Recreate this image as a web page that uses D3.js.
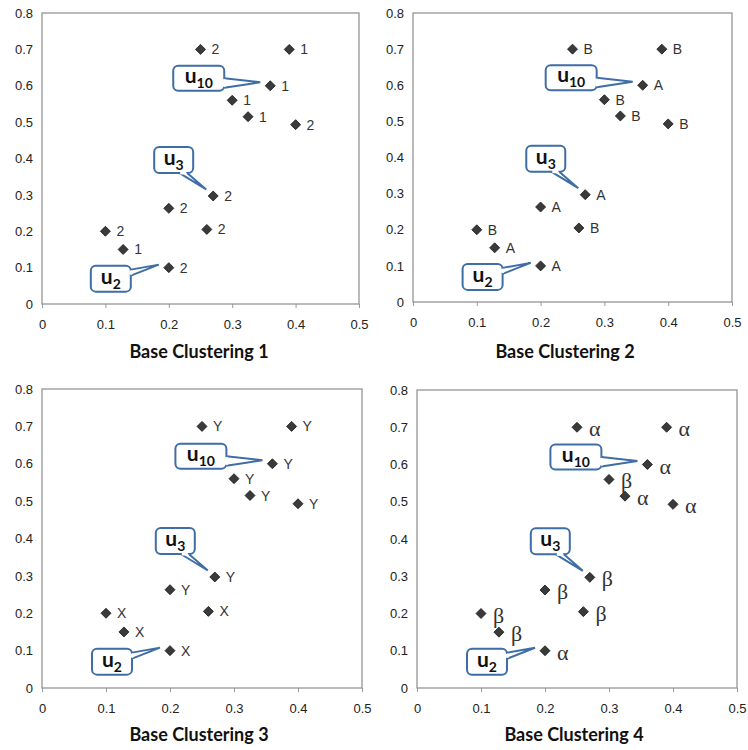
<!DOCTYPE html>
<html><head><meta charset="utf-8">
<script src="https://cdn.jsdelivr.net/npm/d3@7"></script>
<style>
html,body{margin:0;padding:0;background:#fff;}
svg{display:block;}
</style></head>
<body>
<svg id="chart" width="748" height="750"></svg>
<script>
// ---- data ----
const xValues = [0.25, 0.39, 0.36, 0.30, 0.325, 0.40, 0.27, 0.20, 0.26, 0.10, 0.128, 0.20];
const yValues = [0.70, 0.70, 0.60, 0.56, 0.515, 0.493, 0.297, 0.263, 0.205, 0.20, 0.15, 0.10];
const labels1 = ["2","1","1","1","1","2","2","2","2","2","1","2"];
const labels2 = ["B","B","A","B","B","B","A","A","B","B","A","A"];
const labels3 = ["Y","Y","Y","Y","Y","Y","Y","Y","X","X","X","X"];
const labels4 = ["α","α","α","β","α","α","β","β","β","β","β","α"];
const titles = ["Base Clustering 1","Base Clustering 2","Base Clustering 3","Base Clustering 4"];
const xTicks = [0, 0.1, 0.2, 0.3, 0.4, 0.5];
const yTicks = [0, 0.1, 0.2, 0.3, 0.4, 0.5, 0.6, 0.7, 0.8];
const calloutIndex = [2, 6, 11];
const calloutSub = ["10", "3", "2"];

const labelSets = [labels1, labels2, labels3, labels4];

// ---- layout ----
const SANS = "'Liberation Sans', Arimo, Arial, sans-serif";
const SERIF = "'Liberation Serif', 'Times New Roman', 'DejaVu Serif', serif";
const BOLD = "Lato, 'Open Sans', sans-serif";
const panels = [
  {l:42,  r:359, t:13,  b:304, tx:199, ty:358, serif:false},
  {l:413, r:732, t:13,  b:302, tx:565, ty:358, serif:false},
  {l:42,  r:362, t:389, b:688, tx:199, ty:741, serif:false},
  {l:417, r:737, t:390, b:688, tx:574, ty:741, serif:true}
];
// callout geometry relative to the pointed-to marker
const calloutGeom = [
  {bx:-97, by:-20, bw:51, bh:25, tip:[-10,-3.5], base:[[0,-7.5],[0,2]], side:"right"},
  {bx:-59, by:-49, bw:39, bh:26, tip:[-7,-6.5], base:[[-34,0],[-26,0]], side:"bottom"},
  {bx:-78, by:-2,  bw:40, bh:26, tip:[-10,-3], base:[[0,2],[0,8]], side:"right"}
];

const svg = d3.select("#chart");

panels.forEach((p, pi) => {
  const x = d3.scaleLinear().domain([0, 0.5]).range([p.l, p.r]);
  const y = d3.scaleLinear().domain([0, 0.8]).range([p.b, p.t]);
  const g = svg.append("g");

  // x axis
  const xa = g.append("g").attr("transform", `translate(0,${p.b})`)
    .call(d3.axisBottom(x).tickValues(xTicks).tickSize(4).tickSizeOuter(0)
      .tickFormat(d => d3.format("")(+d.toFixed(1))));
  xa.attr("font-family", SANS).attr("font-size", 13);
  xa.select(".domain").remove();
  xa.selectAll(".tick line").attr("stroke", "#9a9a9a");
  xa.selectAll(".tick text").attr("dy", null).attr("y", 25)
    .style("font-family", SANS).style("font-size", "13px").attr("fill", "#222");

  // y axis
  const ya = g.append("g").attr("transform", `translate(${p.l},0)`)
    .call(d3.axisLeft(y).tickValues(yTicks).tickSize(0).tickSizeOuter(0)
      .tickFormat(d => d3.format("")(+d.toFixed(1))));
  ya.attr("font-family", SANS).attr("font-size", 13);
  ya.select(".domain").remove();
  ya.selectAll(".tick text").attr("x", -9)
    .style("font-family", SANS).style("font-size", "13px").attr("fill", "#222");

  // plot frame
  g.append("rect").attr("x", p.l).attr("y", p.t).attr("width", p.r - p.l).attr("height", p.b - p.t)
    .attr("fill", "none").attr("stroke", "#8c8c8c").attr("stroke-width", 1.2);

  // markers
  const data = xValues.map((v, i) => ({x: v, y: yValues[i], lab: labelSets[pi][i]}));
  const s = 5;
  g.selectAll("path.pt").data(data).enter().append("path").attr("class", "pt")
    .attr("d", d => {
      const cx = x(d.x), cy = y(d.y);
      return `M${cx},${cy - s}L${cx + s},${cy}L${cx},${cy + s}L${cx - s},${cy}Z`;
    })
    .attr("fill", "#3a3a3a").attr("stroke", "#161616").attr("stroke-width", 0.8);

  // point labels
  g.selectAll("text.lab").data(data).enter().append("text").attr("class", "lab")
    .attr("x", d => x(d.x) + (p.serif ? 12 : 11))
    .attr("y", d => y(d.y) + (p.serif ? 9 : 5))
    .style("font-family", p.serif ? SERIF : SANS)
    .style("font-size", p.serif ? "22px" : "14px")
    .attr("fill", "#333")
    .text(d => d.lab);

  // callouts
  calloutIndex.forEach((idx, ci) => {
    const cg = calloutGeom[ci];
    const px = x(xValues[idx]), py = y(yValues[idx]);
    const bx = px + cg.bx, by = py + cg.by;
    const cgp = g.append("g");
    cgp.append("rect").attr("x", bx).attr("y", by).attr("width", cg.bw).attr("height", cg.bh)
      .attr("rx", 5).attr("ry", 5).attr("fill", "#fff").attr("stroke", "#3f6ea6").attr("stroke-width", 2);
    let b1, b2;
    if (cg.side === "right") {
      b1 = [bx + cg.bw, py + cg.base[0][1]];
      b2 = [bx + cg.bw, py + cg.base[1][1]];
    } else {
      b1 = [px + cg.base[0][0], by + cg.bh];
      b2 = [px + cg.base[1][0], by + cg.bh];
    }
    const tip = [px + cg.tip[0], py + cg.tip[1]];
    cgp.append("path").attr("d", `M${b1[0]},${b1[1]}L${tip[0]},${tip[1]}L${b2[0]},${b2[1]}Z`)
      .attr("fill", "#fff").attr("stroke", "none");
    cgp.append("path").attr("d", `M${b1[0]},${b1[1]}L${tip[0]},${tip[1]}L${b2[0]},${b2[1]}`)
      .attr("fill", "none").attr("stroke", "#3f6ea6").attr("stroke-width", 2).attr("stroke-linejoin", "miter");
    if (cg.side === "right") {
      cgp.append("line").attr("x1", b1[0]).attr("x2", b2[0]).attr("y1", b1[1] + 1).attr("y2", b2[1] - 1)
        .attr("stroke", "#fff").attr("stroke-width", 3);
    } else {
      cgp.append("line").attr("x1", b1[0] + 1).attr("x2", b2[0] - 1).attr("y1", b1[1]).attr("y2", b2[1])
        .attr("stroke", "#fff").attr("stroke-width", 3);
    }
    const t = cgp.append("text").attr("x", bx + cg.bw / 2).attr("y", by + cg.bh - 8)
      .attr("text-anchor", "middle")
      .style("font-family", BOLD).style("font-weight", "bold").attr("fill", "#111");
    t.append("tspan").style("font-size", "21px").text("u");
    t.append("tspan").style("font-size", "14px").attr("dy", 5).text(calloutSub[ci]);
  });

  // title
  svg.append("text").attr("x", p.tx).attr("y", p.ty).attr("text-anchor", "middle")
    .style("font-family", BOLD).style("font-weight", "bold").style("font-size", "18px")
    .attr("fill", "#111").text(titles[pi]);
});
</script>
</body></html>
